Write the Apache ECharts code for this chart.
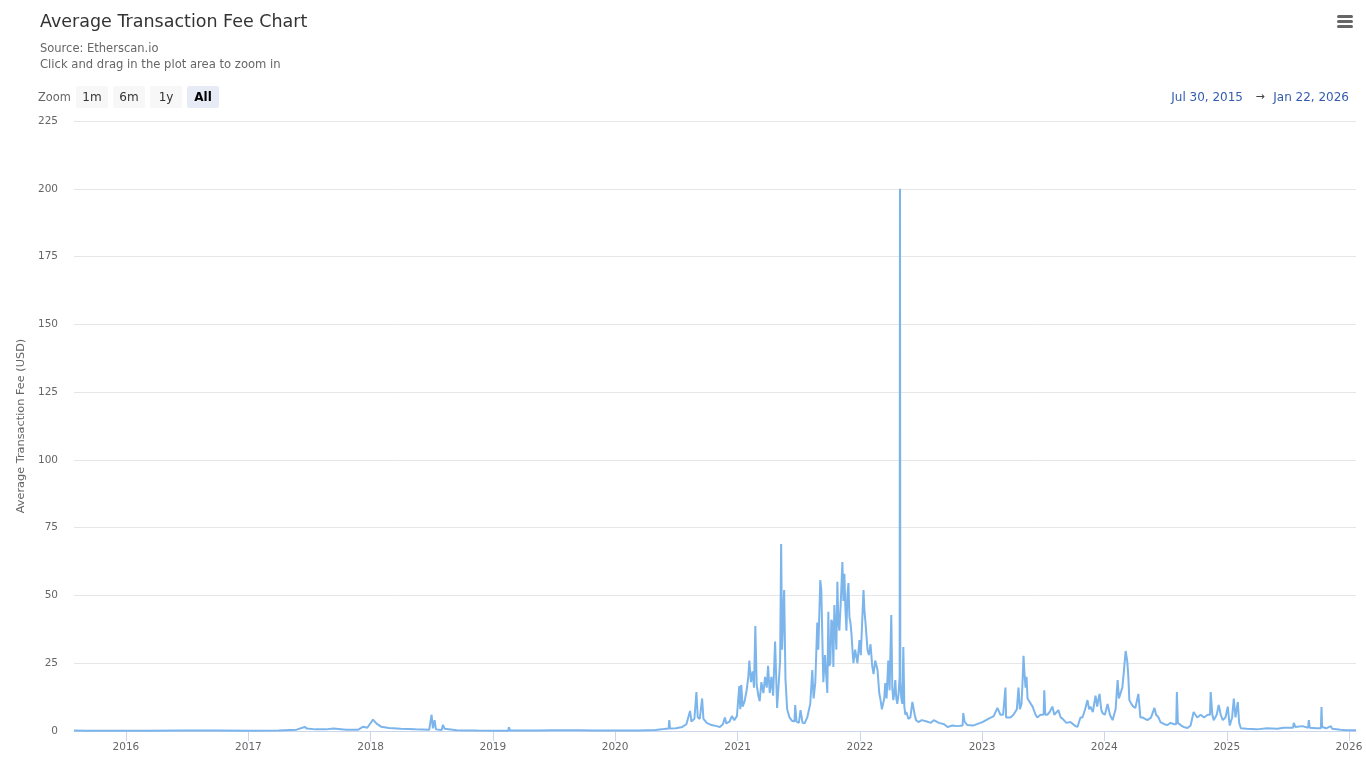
<!DOCTYPE html>
<html>
<head>
<meta charset="utf-8">
<script src="https://cdn.jsdelivr.net/npm/echarts@6/dist/echarts.min.js"></script>
<style>
html,body{margin:0;padding:0;background:#fff;}
#chart{width:1366px;height:768px;}
</style>
</head>
<body>
<div id="chart"></div>
<script>
// ---- Data ----
var dates = [
'2015-07-30','2015-09-01','2015-12-01','2016-03-01','2016-06-18','2016-10-01','2017-01-01','2017-04-01','2017-05-25','2017-06-18',
'2017-06-25','2017-07-20','2017-08-20','2017-09-12','2017-10-20','2017-11-25','2017-12-10','2017-12-22','2018-01-08','2018-01-18',
'2018-02-01','2018-02-25','2018-04-01','2018-05-15','2018-06-25','2018-07-02','2018-07-06','2018-07-11','2018-07-15','2018-08-01',
'2018-08-05','2018-08-10','2018-09-15','2018-11-15','2019-01-15','2019-02-16','2019-02-18','2019-02-21','2019-03-08','2019-03-10',
'2019-03-13','2019-05-15','2019-07-01','2019-09-15','2019-11-01','2020-01-15','2020-03-01','2020-03-11','2020-03-13','2020-03-16',
'2020-05-01','2020-05-25','2020-06-09','2020-06-11','2020-06-13','2020-07-01','2020-07-20','2020-08-01','2020-08-12','2020-08-16',
'2020-08-25','2020-08-31','2020-09-04','2020-09-10','2020-09-17','2020-09-21','2020-10-01','2020-10-15','2020-10-30','2020-11-09',
'2020-11-18','2020-11-24','2020-11-28','2020-12-08','2020-12-15','2020-12-22','2020-12-30','2021-01-06','2021-01-09','2021-01-12',
'2021-01-16','2021-01-22','2021-01-28','2021-02-02','2021-02-05','2021-02-10','2021-02-15','2021-02-19','2021-02-23','2021-02-27',
'2021-03-04','2021-03-08','2021-03-13','2021-03-19','2021-03-24','2021-03-29','2021-04-02','2021-04-07','2021-04-12','2021-04-17',
'2021-04-23','2021-04-29','2021-05-04','2021-05-08','2021-05-11','2021-05-14','2021-05-17','2021-05-20','2021-05-24','2021-05-29',
'2021-06-05','2021-06-12','2021-06-20','2021-06-22','2021-06-26','2021-07-03','2021-07-08','2021-07-14','2021-07-20','2021-07-28',
'2021-08-06','2021-08-12','2021-08-16','2021-08-21','2021-08-27','2021-08-30','2021-09-05','2021-09-08','2021-09-11','2021-09-14',
'2021-09-19','2021-09-26','2021-09-29','2021-10-02','2021-10-05','2021-10-08','2021-10-11','2021-10-14','2021-10-17','2021-10-20',
'2021-10-23','2021-10-26','2021-10-29','2021-11-01','2021-11-06','2021-11-10','2021-11-13','2021-11-16','2021-11-19','2021-11-22',
'2021-11-25','2021-11-28','2021-12-01','2021-12-04','2021-12-07','2021-12-10','2021-12-13','2021-12-18','2021-12-25','2021-12-31',
'2022-01-04','2022-01-08','2022-01-12','2022-01-15','2022-01-18','2022-01-21','2022-01-24','2022-01-28','2022-02-02','2022-02-07',
'2022-02-11','2022-02-16','2022-02-23','2022-02-28','2022-03-04','2022-03-08','2022-03-12','2022-03-15','2022-03-18','2022-03-22',
'2022-03-27','2022-03-31','2022-04-05','2022-04-08','2022-04-11','2022-04-14','2022-04-17','2022-04-20','2022-04-23','2022-04-27',
'2022-04-30','2022-05-01','2022-05-02','2022-05-05','2022-05-08','2022-05-11','2022-05-14','2022-05-17','2022-05-20','2022-05-26',
'2022-06-01','2022-06-07','2022-06-10','2022-06-14','2022-06-18','2022-06-25','2022-07-05','2022-07-20','2022-08-01','2022-08-10',
'2022-08-25','2022-09-10','2022-09-20','2022-10-05','2022-10-20','2022-11-04','2022-11-06','2022-11-10','2022-11-18','2022-12-05',
'2022-12-27','2023-01-02','2023-01-20','2023-02-05','2023-02-16','2023-02-25','2023-03-05','2023-03-10','2023-03-12','2023-03-14',
'2023-03-27','2023-04-05','2023-04-15','2023-04-20','2023-04-24','2023-04-29','2023-05-02','2023-05-05','2023-05-08','2023-05-11',
'2023-05-14','2023-05-17','2023-05-22','2023-06-01','2023-06-10','2023-06-15','2023-06-25','2023-07-04','2023-07-06','2023-07-09',
'2023-07-15','2023-07-22','2023-07-30','2023-08-05','2023-08-17','2023-08-24','2023-08-30','2023-09-10','2023-09-22','2023-10-07',
'2023-10-13','2023-10-22','2023-10-28','2023-11-05','2023-11-12','2023-11-17','2023-11-21','2023-11-28','2023-12-06','2023-12-11',
'2023-12-15','2023-12-18','2023-12-23','2023-12-27','2024-01-03','2024-01-11','2024-01-18','2024-01-26','2024-01-29','2024-02-04',
'2024-02-10','2024-02-14','2024-02-19','2024-02-24','2024-02-28','2024-03-05','2024-03-07','2024-03-10','2024-03-13','2024-03-16',
'2024-03-22','2024-03-28','2024-04-03','2024-04-12','2024-04-15','2024-04-18','2024-04-24','2024-05-09','2024-05-20','2024-05-30',
'2024-06-04','2024-06-11','2024-06-17','2024-06-28','2024-07-08','2024-07-17','2024-07-28','2024-08-03','2024-08-05','2024-08-08',
'2024-08-18','2024-08-25','2024-09-06','2024-09-15','2024-09-24','2024-10-05','2024-10-15','2024-10-25','2024-11-05','2024-11-12',
'2024-11-14','2024-11-19','2024-11-23','2024-12-02','2024-12-08','2024-12-14','2024-12-20','2024-12-28','2025-01-04','2025-01-08',
'2025-01-10','2025-01-17','2025-01-22','2025-01-27','2025-02-03','2025-02-07','2025-02-12','2025-03-01','2025-04-01','2025-05-01',
'2025-06-01','2025-06-20','2025-07-18','2025-07-20','2025-07-25','2025-08-15','2025-09-01','2025-09-03','2025-09-06','2025-09-25',
'2025-10-09','2025-10-11','2025-10-13','2025-10-25','2025-11-08','2025-11-12','2025-12-07','2025-12-25','2026-01-22'
];
var fees = [
0.2,0.1,0.05,0.1,0.2,0.15,0.1,0.2,0.5,1.5,
0.9,0.6,0.6,0.9,0.5,0.5,1.6,1.2,4.2,2.8,
1.6,1.1,0.8,0.6,0.5,6.0,1.0,4.0,0.6,0.4,
2.3,0.8,0.3,0.15,0.1,0.1,1.4,0.15,0.15,0.7,
0.15,0.2,0.3,0.3,0.2,0.15,0.2,0.2,0.8,0.2,
0.4,0.7,0.9,4.0,0.9,1.0,1.5,2.5,7.4,3.5,
4.5,14.4,5,4.5,12,4.5,3.0,2.2,1.8,1.5,
2.5,5.0,2.8,3.5,5.5,4.0,5.5,16.6,8,17,
9,11,15,20,26,18,22,16,38.7,17,
13,11,18,14,20,16,24,14,20,13,
33,8.5,18,26,69,30,42,52,19,8,
5,3.8,3.5,9.6,3.5,3,7.7,3,2.8,5,
10,22.5,12,17.7,40,30,55.7,52,35,18,
28,14,44,24,25,41,40,23.6,46.5,47,
30,55,40,37,50,62.3,48,58,45,37,
50,54.6,42,40,36,30,25,30,25,33.5,
28,40,52,44,40,35,30,28,32,24,
21,26,22.5,14,11.4,8,7.7,12,17.7,12,
26,15,42.8,16,11.4,14,18.8,12,10,14,
20,200,18,12,10,31,9,6,7,4.5,
5,10.7,11.4,6,4,3.3,4,3.5,3,4,
3,2.5,1.5,2,1.8,2,6.6,3.5,2.2,2,
3,3.3,4.5,5.5,8.5,6,6,6,16,5,
5,6,8,16,8,10,18,27.7,21,16,
20,12,11,9,6,5,6,6,15,6,
6,7,9,6,7.7,5,4.5,3,3.3,1.8,
1.5,5,5,8,11.4,8,9,7,13,9,
12,13.7,8,6.6,6,10,6,4,4,8,
18.8,12,12,16,21,29.5,28,25.5,20,11.4,
10,9,8.5,13.7,13,5,5,4,5,8.5,
6,5,3.3,2.5,2.2,3,2.5,2.5,14.4,3,
2,1.5,1.1,2,7,5,6,5,6,6,
14.4,6,4,6,9.6,6,4,5,9,4,
2,5,12,5,10.7,3,1,0.8,0.6,1.0,
0.8,1.2,1.2,3,1.5,1.8,1.2,4,1.2,1.0,
1.0,8.8,1.5,1.0,1.8,0.8,0.5,0.3,0.3
];
var yearTickLabels = ['2016','2017','2018','2019','2020','2021','2022','2023','2024','2025','2026'];
var rangeStart = '2015-07-30';
var rangeEnd = '2026-01-22';
var rangeStartLabel = 'Jul 30, 2015';
var rangeEndLabel = 'Jan 22, 2026';
var zoomButtons = ['1m','6m','1y','All'];

function toTs(s) { var p = s.split('-'); return new Date(+p[0], +p[1] - 1, +p[2]).getTime(); }
var seriesData = dates.map(function (d, i) { return [toTs(d), fees[i]]; });
var yearTicks = yearTickLabels.map(function (y) { return new Date(+y, 0, 1).getTime(); });

var chart = echarts.init(document.getElementById('chart'), null, {renderer: 'canvas'});
var FONT = 'DejaVu Sans';

var graphics = [];
graphics.push({type:'text', left:40, top:13, style:{text:'Average Transaction Fee Chart', font:'17.5px ' + FONT, fill:'#333333'}});
graphics.push({type:'text', left:40, top:43, style:{text:'Source: Etherscan.io', font:'11.5px ' + FONT, fill:'#666666'}});
graphics.push({type:'text', left:40, top:59, style:{text:'Click and drag in the plot area to zoom in', font:'11.6px ' + FONT, fill:'#666666'}});
graphics.push({type:'text', left:38, top:93, style:{text:'Zoom', font:'11.4px ' + FONT, fill:'#666666'}});
var btnX = [76, 113, 150, 187];
zoomButtons.forEach(function (b, i) {
  var sel = (b === 'All');
  graphics.push({type:'rect', shape:{x:btnX[i], y:86, width:32, height:22, r:2}, style:{fill: sel ? '#e6ebf5' : '#f7f7f7'}});
  graphics.push({type:'text', x:btnX[i] + 16, y:98, style:{text:b, font:(sel ? 'bold ' : '') + '12px ' + FONT, fill: sel ? '#000000' : '#333333', align:'center', verticalAlign:'middle'}});
});
graphics.push({type:'text', x:1243, y:97.5, style:{text:rangeStartLabel, font:'12px ' + FONT, fill:'#335cad', align:'right', verticalAlign:'middle'}});
graphics.push({type:'text', x:1260, y:97.5, style:{text:'\u2192', font:'11px ' + FONT, fill:'#444444', align:'center', verticalAlign:'middle'}});
graphics.push({type:'text', x:1349, y:97.5, style:{text:rangeEndLabel, font:'12px ' + FONT, fill:'#335cad', align:'right', verticalAlign:'middle'}});
[15, 20, 25].forEach(function (yy) {
  graphics.push({type:'rect', shape:{x:1337, y:yy, width:16, height:3, r:1.5}, style:{fill:'#666666'}});
});

var option = {
  animation: false,
  backgroundColor: '#ffffff',
  textStyle: {fontFamily: FONT},
  grid: {left: 74, right: 10, top: 121, bottom: 37, containLabel: false},
  xAxis: {
    type: 'value',
    min: toTs(rangeStart),
    max: toTs(rangeEnd),
    axisLine: {show: true, lineStyle: {color: '#ccd6eb', width: 1}},
    axisTick: {show: true, length: 10, lineStyle: {color: '#ccd6eb'}, customValues: yearTicks},
    axisLabel: {
      color: '#666666', fontSize: 10.5, fontFamily: FONT, margin: 11,
      customValues: yearTicks,
      formatter: function (v) { return String(new Date(v).getFullYear()); }
    },
    splitLine: {show: false}
  },
  yAxis: {
    type: 'value',
    min: 0, max: 225, interval: 25,
    name: 'Average Transaction Fee (USD)',
    nameLocation: 'middle',
    nameGap: 45,
    nameTextStyle: {color: '#666666', fontSize: 11.3, fontFamily: FONT},
    axisLine: {show: false},
    axisTick: {show: false},
    axisLabel: {color: '#666666', fontSize: 10.5, fontFamily: FONT, margin: 16},
    splitLine: {show: true, lineStyle: {color: '#e6e6e6', width: 1}}
  },
  series: [{
    name: 'Average Transaction Fee',
    type: 'line',
    data: seriesData,
    showSymbol: false,
    symbol: 'none',
    lineStyle: {color: '#7cb5ec', width: 2},
    itemStyle: {color: '#7cb5ec'},
    z: 3
  }],
  graphic: graphics
};
chart.setOption(option);
</script>
</body>
</html>
